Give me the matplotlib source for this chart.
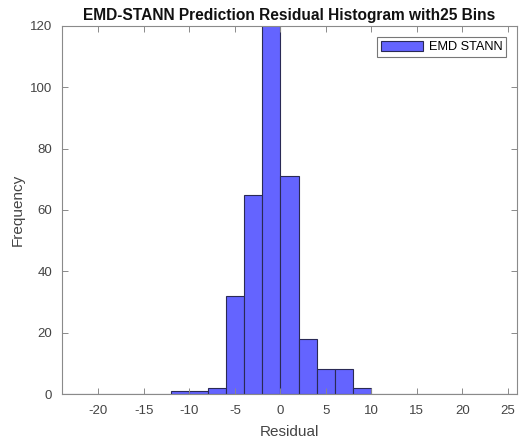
import matplotlib
matplotlib.use("Agg")
import matplotlib.pyplot as plt
from matplotlib import font_manager as fm
import numpy as np

# Histogram data (25 bins of width 2 from -24 to 26)
bin_edges = np.arange(-24, 27, 2)
bin_counts = [0, 0, 0, 0, 0, 0, 1, 1, 2, 32, 65, 135, 71, 18, 8, 8, 2, 0, 0, 0, 0, 0, 0, 0, 0]
x_ticks = [-20, -15, -10, -5, 0, 5, 10, 15, 20, 25]
y_ticks = [0, 20, 40, 60, 80, 100, 120]

plt.rcParams['font.family'] = ['Liberation Sans', 'DejaVu Sans']
plt.rcParams['axes.unicode_minus'] = False

# find a non-narrow bold Liberation Sans file
bold_path = None
for f in fm.findSystemFonts():
    name = f.split('/')[-1]
    if name.lower() == 'liberationsans-bold.ttf':
        bold_path = f
        break
title_font = fm.FontProperties(fname=bold_path, size=11.2) if bold_path else \
    fm.FontProperties(family='DejaVu Sans', weight='bold', size=10)

fig = plt.figure(figsize=(5.21, 4.45), dpi=100)
ax = fig.add_axes([0.119, 0.1146, 0.873, 0.827])

centers = (bin_edges[:-1] + bin_edges[1:]) / 2
ax.hist(centers, bins=bin_edges, weights=bin_counts, color='#6464FF',
        edgecolor='#2a2a55', linewidth=0.8, label='EMD STANN')

ax.set_xlim(-24, 26)
ax.set_ylim(0, 120)
ax.set_xticks(x_ticks)
ax.set_yticks(y_ticks)

axis_col = '#8a8a8a'
for s in ax.spines.values():
    s.set_color(axis_col)
    s.set_linewidth(0.8)
ax.tick_params(direction='in', top=True, right=True, length=4, width=0.7,
               color=axis_col, labelcolor='#444444', labelsize=9.5)
ax.tick_params(axis='x', pad=8)
ax.tick_params(axis='y', pad=7)

ax.set_title('EMD-STANN Prediction Residual Histogram with25 Bins',
             fontproperties=title_font, color='#111111', pad=4)
ax.set_xlabel('Residual', fontsize=11, color='#444444', labelpad=6)
ax.set_ylabel('Frequency', fontsize=11, color='#444444', labelpad=4)

leg = ax.legend(loc='upper right', fontsize=9.2, frameon=True, fancybox=False,
                handlelength=3.3, handleheight=0.9, borderpad=0.3,
                handletextpad=0.4, borderaxespad=0.85)
leg.get_frame().set_edgecolor('#555555')
leg.get_frame().set_linewidth(0.8)

fig.savefig('out.png', dpi=100)
